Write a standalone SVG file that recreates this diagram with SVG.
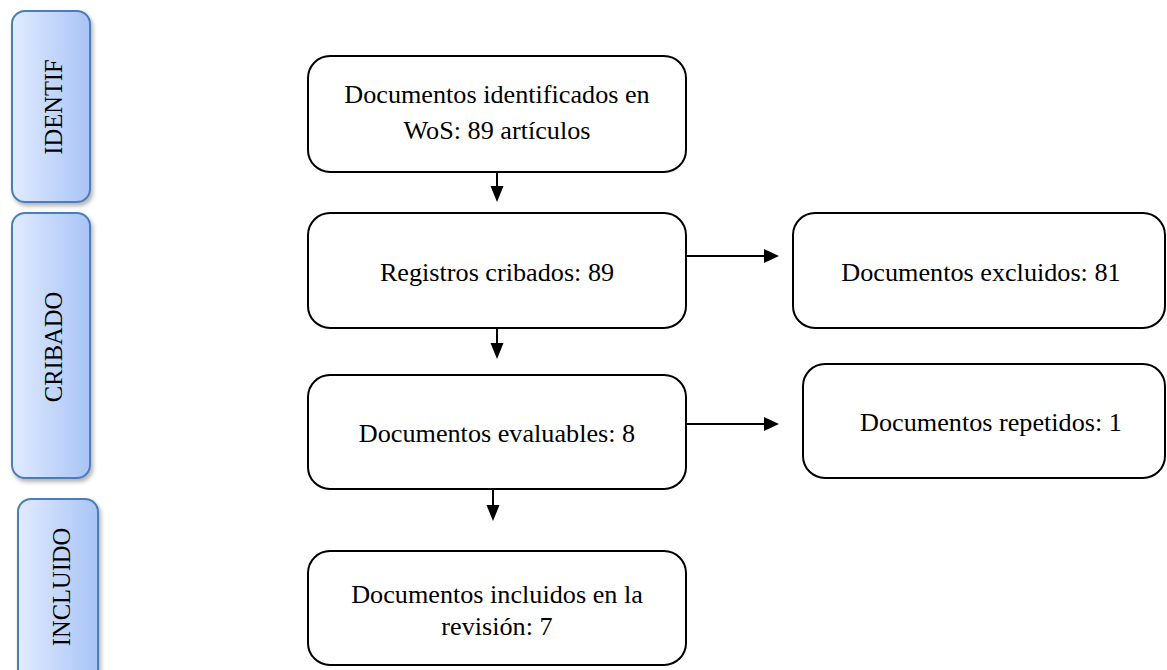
<svg xmlns="http://www.w3.org/2000/svg" width="1167" height="670" viewBox="0 0 1167 670">
<style>
.box{fill:#ffffff;stroke:#000;stroke-width:2}
.side{fill:url(#sg);stroke:#4a7ebb;stroke-width:2;filter:url(#sh)}
.t{font-family:"Liberation Serif","Times New Roman",serif;font-size:26.2px;fill:#000;text-anchor:middle}
.st{font-family:"Liberation Serif","Times New Roman",serif;font-size:24.5px;fill:#000;text-anchor:middle}
.c{stroke:#000;stroke-width:2;fill:none}
.ah{fill:#000}
</style>
<defs>
<linearGradient id="sg" x1="0" y1="0" x2="1" y2="0">
<stop offset="0" stop-color="#e1ebff"/>
<stop offset="1" stop-color="#a8c4f6"/>
</linearGradient>
<filter id="sh" x="-20%" y="-10%" width="150%" height="130%">
<feDropShadow dx="2" dy="3" stdDeviation="2" flood-color="#000" flood-opacity="0.3"/>
</filter>
</defs>
<rect width="1167" height="670" fill="#fff"/>

<g id="side-identif">
<rect class="side" x="12" y="11" width="78" height="191" rx="13"/>
<text class="st" transform="translate(62,107) rotate(-90)">IDENTIF</text>
</g>
<g id="side-cribado">
<rect class="side" x="12" y="213" width="78" height="265" rx="13"/>
<text class="st" transform="translate(62,347) rotate(-90)">CRIBADO</text>
</g>
<g id="side-incluido">
<rect class="side" x="18" y="499" width="80" height="190" rx="13"/>
<text class="st" transform="translate(70,587) rotate(-90)">INCLUIDO</text>
</g>

<g id="n1">
<rect class="box" x="308" y="56" width="378" height="116" rx="22"/>
<text class="t" x="497" y="103">Documentos identificados en</text>
<text class="t" x="497" y="139">WoS: 89 artículos</text>
</g>
<g id="n2">
<rect class="box" x="308" y="213" width="378" height="115" rx="22"/>
<text class="t" x="497" y="281">Registros cribados: 89</text>
</g>
<g id="n3">
<rect class="box" x="308" y="375" width="378" height="114" rx="22"/>
<text class="t" x="497" y="442">Documentos evaluables: 8</text>
</g>
<g id="n4">
<rect class="box" x="308" y="551" width="378" height="114" rx="22"/>
<text class="t" x="497" y="603">Documentos incluidos en la</text>
<text class="t" x="497" y="635">revisión: 7</text>
</g>
<g id="n5">
<rect class="box" x="793" y="213" width="372" height="115" rx="22"/>
<text class="t" x="981" y="281">Documentos excluidos: 81</text>
</g>
<g id="n6">
<rect class="box" x="803" y="364" width="362" height="114" rx="22"/>
<text class="t" x="991" y="431">Documentos repetidos: 1</text>
</g>

<g id="connectors">
<line class="c" x1="497" y1="172" x2="497" y2="188"/>
<polygon class="ah" points="490.5,186 503.5,186 497,202"/>
<line class="c" x1="497" y1="328" x2="497" y2="345"/>
<polygon class="ah" points="490.5,343 503.5,343 497,359"/>
<line class="c" x1="493" y1="489" x2="493" y2="507"/>
<polygon class="ah" points="486.5,505 499.5,505 493,521"/>
<line class="c" x1="686" y1="256" x2="766" y2="256"/>
<polygon class="ah" points="764,249 764,263 779,256"/>
<line class="c" x1="686" y1="424" x2="766" y2="424"/>
<polygon class="ah" points="764,417 764,431 779,424"/>
</g>
</svg>
